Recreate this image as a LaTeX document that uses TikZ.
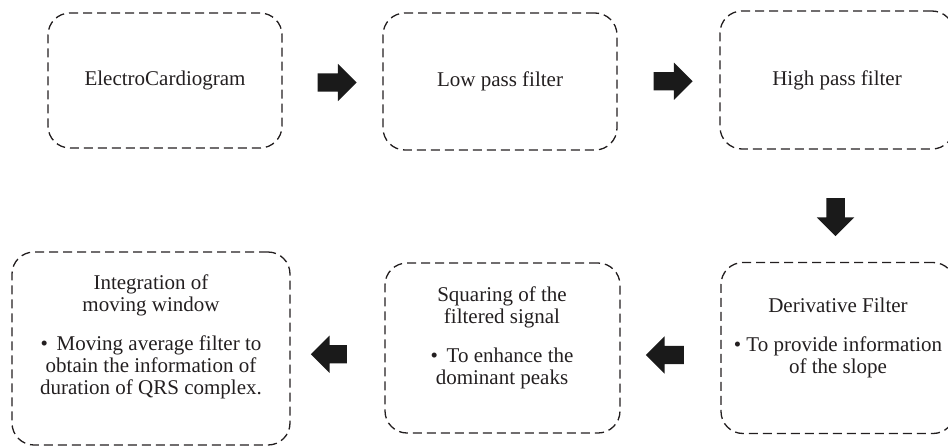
\documentclass[tikz,border=0pt]{standalone}
\usepackage{fontspec}
\setmainfont{Liberation Serif}
\usetikzlibrary{calc,shapes.arrows}
\definecolor{ink}{HTML}{231F20}
\definecolor{arrowfill}{HTML}{1A1A1A}
\begin{document}
\begin{tikzpicture}[x=1pt,y=-1pt,
  box/.style={draw=ink, dash pattern=on 9pt off 5pt, line width=1.3pt,
    rounded corners=22pt, inner sep=0pt},
  lbl/.style={text=ink, align=center, inner sep=0pt,
    font=\fontsize{21}{22}\selectfont},
  blockarrow/.style={single arrow, fill=arrowfill, draw=none, inner sep=9pt,
    single arrow head extend=9.5pt, single arrow head indent=0pt,
    minimum height=39pt, minimum width=37pt}
]
\useasboundingbox (0,0) rectangle (948,447);
% boxes
\node[box, minimum width=234pt, minimum height=135pt] (b1) at (165,80.5) {};
\node[box, minimum width=234pt, minimum height=137pt] (b2) at (500,81.5) {};
\node[box, minimum width=234pt, minimum height=138pt] (b3) at (837,80) {};
\node[box, minimum width=234pt, minimum height=171pt] (b4) at (838,348) {};
\node[box, minimum width=235pt, minimum height=170pt] (b5) at (502.5,348) {};
\node[box, minimum width=278pt, minimum height=193pt] (b6) at (151,348.5) {};
% labels
\node[lbl] (t1) at (b1.center) {ElectroCardiogram};
\node[lbl] (t2) at (b2.center) {Low pass filter};
\node[lbl] (t3) at (b3.center) {High pass filter};
\node[lbl] (t4) at (838,338) {Derivative Filter\\[17pt]\textbullet\ To provide information\\of the slope};
\node[lbl] (t5) at (502,338) {Squaring of the\\filtered signal\\[17pt]\textbullet\ \,To enhance the\\dominant peaks};
\node[lbl] (t6) at (151,337) {Integration of\\moving window\\[17pt]\textbullet\ \,Moving average filter to\\obtain the information of\\duration of QRS complex.};
% block arrows
\node[blockarrow] (a1) at ($(b1.east)!0.5!(b2.west)+(0,1.5)$) {};
\node[blockarrow] (a2) at ($(b2.east)!0.5!(b3.west)+(0,0.5)$) {};
\node[blockarrow, shape border rotate=270, minimum height=38pt, minimum width=36pt] (a3) at ($(b3.south)!0.56!(b4.north)+(-2,0)$) {};
\node[blockarrow, shape border rotate=180, minimum height=38pt] (a4) at ($(b4.west)!0.5!(b5.east)+(-1,7)$) {};
\node[blockarrow, shape border rotate=180, minimum height=36pt] (a5) at ($(b5.west)!0.5!(b6.east)+(-4,6)$) {};
\end{tikzpicture}
\end{document}
